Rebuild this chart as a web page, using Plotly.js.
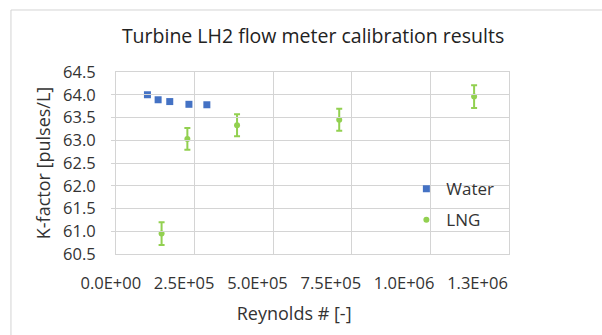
<!DOCTYPE html>
<html>
<head>
<meta charset="utf-8">
<script src="https://cdn.plot.ly/plotly-3.0.1.min.js"></script>
<style>html,body{margin:0;padding:0;background:#fff;}#chart{width:602px;height:335px;}</style>
</head>
<body>
<div id="chart"></div>
<script>
// Data
var waterRe = [100000, 134000, 171000, 232000, 289000];
var waterK  = [64.00, 63.89, 63.85, 63.79, 63.78];

var lngRe  = [145000, 227000, 385000, 710000, 1139000];
var lngK   = [60.95, 63.03, 63.33, 63.45, 63.96];
var lngErr = [0.25, 0.24, 0.24, 0.24, 0.25];

var xTickVals = [0, 250000, 500000, 750000, 1000000, 1250000];
var xTickText = ['0.0E+00', '2.5E+05', '5.0E+05', '7.5E+05', '1.0E+06', '1.3E+06'];
var yTickVals = [60.5, 61.0, 61.5, 62.0, 62.5, 63.0, 63.5, 64.0, 64.5];
var yTickText = ['60.5', '61.0', '61.5', '62.0', '62.5', '63.0', '63.5', '64.0', '64.5'];

var FONT = 'Open Sans, Noto Sans, sans-serif';
var TXT = '#333333';
var GRID = '#d4d4d4';

var traces = [
  {
    x: waterRe, y: waterK, name: 'Water', type: 'scatter', mode: 'markers',
    marker: {symbol: 'square', size: 7, color: '#4472C4'},
    legendgroup: 'a'
  },
  {
    x: lngRe, y: lngK, name: 'LNG', type: 'scatter', mode: 'markers',
    marker: {symbol: 'circle', size: 6, color: '#92D050'},
    error_y: {type: 'data', array: lngErr, visible: true, color: '#92D050', thickness: 2, width: 3},
    legendgroup: 'b'
  },
  {
    // invisible carrier so the tick-label axis (x2) is drawn
    x: xTickVals, y: xTickVals.map(function () { return null; }),
    xaxis: 'x2', yaxis: 'y', type: 'scatter', mode: 'markers',
    marker: {opacity: 0}, showlegend: false, hoverinfo: 'skip'
  }
];

var layout = {
  width: 602, height: 335,
  margin: {l: 100, r: 80, t: 72, b: 81},
  paper_bgcolor: '#ffffff', plot_bgcolor: 'rgba(0,0,0,0)',
  font: {family: FONT, color: TXT},
  title: {
    text: 'Turbine LH2 flow meter calibration results',
    font: {family: FONT, size: 19.5, color: '#222222'},
    x: 0.52, xref: 'container', xanchor: 'center',
    y: 0.892, yref: 'container', yanchor: 'middle'
  },
  xaxis: {
    domain: [0.0379, 0.9692],
    range: [0, 1250000],
    tickvals: xTickVals,
    showticklabels: false,
    showgrid: true, gridcolor: GRID, gridwidth: 1,
    zeroline: false,
    showline: true, linecolor: GRID, linewidth: 1, mirror: true,
    ticks: ''
  },
  xaxis2: {
    domain: [0.0256, 0.8945],
    anchor: 'y',
    range: [0, 1250000],
    tickmode: 'array', tickvals: xTickVals, ticktext: xTickText,
    showgrid: false, zeroline: false, showline: false, ticks: '',
    ticklabelstandoff: 17,
    tickfont: {family: FONT, size: 16.5, color: TXT},
    title: {text: 'Reynolds # [-]', font: {family: FONT, size: 18, color: TXT}, standoff: 14}
  },
  yaxis: {
    range: [60.5, 64.5],
    tickmode: 'array', tickvals: yTickVals, ticktext: yTickText,
    showgrid: true, gridcolor: GRID, gridwidth: 1,
    zeroline: false,
    showline: true, linecolor: GRID, linewidth: 1, mirror: true,
    ticks: '',
    ticklabelstandoff: 16,
    tickfont: {family: FONT, size: 16.5, color: TXT},
    title: {text: 'K-factor [pulses/L]', font: {family: FONT, size: 18, color: TXT}, standoff: 7}
  },
  legend: {
    x: 0.726, xanchor: 'left', y: 0.455, yanchor: 'top',
    bgcolor: 'rgba(0,0,0,0)', borderwidth: 0,
    font: {family: FONT, size: 17, color: TXT},
    traceorder: 'grouped', tracegroupgap: 6
  },
  showlegend: true,
  shapes: [
    {type: 'rect', xref: 'paper', yref: 'paper',
     x0: -0.211, x1: 1.3, y0: -0.6, y1: 1.3407,
     line: {color: GRID, width: 1}, fillcolor: 'rgba(0,0,0,0)', layer: 'above'}
  ]
};

Plotly.newPlot('chart', traces, layout, {displayModeBar: false, staticPlot: true});
</script>
</body>
</html>
